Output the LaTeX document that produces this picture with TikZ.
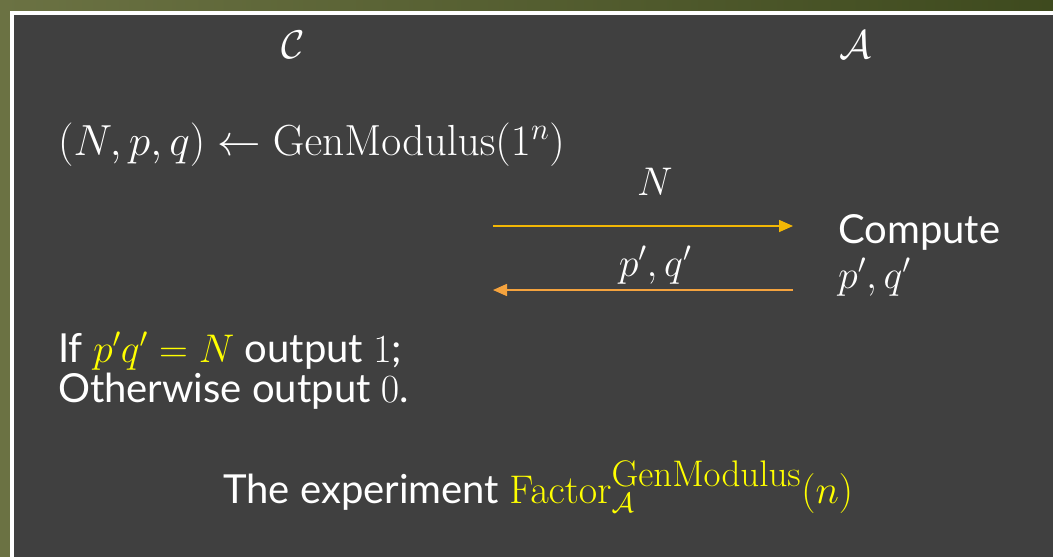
\documentclass[tikz,border=0pt]{standalone}
\usepackage{fix-cm}
\usepackage{amsmath}
\usepackage[no-math]{fontspec}
\setmainfont{Lato}
\usetikzlibrary{arrows.meta}
\definecolor{slidegray}{HTML}{404040}
\definecolor{oliveL}{HTML}{6B7243}
\definecolor{oliveR}{HTML}{3E4A1E}
\definecolor{sendamber}{HTML}{F2B705}
\definecolor{backorange}{HTML}{F5A33E}
\definecolor{hiyellow}{HTML}{FFFF00}
\newcommand{\GenMod}{\mathrm{GenModulus}}
\newcommand{\GenModSup}{\mbox{\fontsize{37}{37}\selectfont$\GenMod$}}

\begin{document}
\begin{tikzpicture}[x=1pt, y=-1pt,
    every node/.style={text=white, inner sep=0pt, font=\fontsize{40}{40}\selectfont},
    msg/.style={-{Triangle[length=14pt, width=12pt]}, line width=1.6pt}]
    \useasboundingbox (0,0) rectangle (1053,557);
    % Slide frame
    \fill[oliveL] (0,0) rectangle (1053,557);
    \shade[left color=oliveL, right color=oliveR] (0,0) rectangle (1053,11);
    \fill[white] (10,11) rectangle (1060,570);
    \fill[slidegray] (14,15) rectangle (1060,570);

    % Parties
    \node (chal) at (293,45) {$\mathcal{C}$};
    \node (adv) at (855,45) {$\mathcal{A}$};

    % Challenger generates the modulus
    \node[anchor=base west, font=\fontsize{43.5}{43.5}\selectfont] (gen) at (58,155)
        {$(N,p,q) \leftarrow \GenMod(1^n)$};

    % Messages
    \coordinate (sendL) at (493,226);
    \coordinate (sendR) at (793,226);
    \coordinate (backL) at (493,290);
    \coordinate (backR) at (793,290);
    \draw[msg, sendamber] (sendL) -- (sendR);
    \draw[msg, backorange] (backR) -- (backL);
    \node (lblN) at (655,182) {$N$};
    \node (lblpq) at (655,265) {$p',q'$};

    % Adversary
    \node[anchor=base west, align=left, font=\fontsize{40}{45}\selectfont] (compute) at (838,288)
        {Compute\\$p',q'$};

    % Check
    \node[anchor=base west, align=left] (check) at (58,402)
        {If \textcolor{hiyellow}{$p'q' = N$} output $1$;\\Otherwise output $0$.};

    % Caption
    \node[anchor=base west] (title) at (223,503)
        {The experiment \textcolor{hiyellow}{$\mathrm{Factor}^{\GenModSup}_{\mathcal{A}}(n)$}};
\end{tikzpicture}
\end{document}
